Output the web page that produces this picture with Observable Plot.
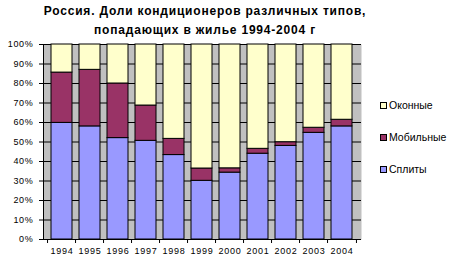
<!DOCTYPE html>
<html><head><meta charset="utf-8">
<script src="https://cdn.jsdelivr.net/npm/d3@7"></script>
<script src="https://cdn.jsdelivr.net/npm/@observablehq/plot@0.6"></script>
<style>
body{margin:0;background:#fff;font-family:"Liberation Sans",Arial,sans-serif;}
#wrap{position:relative;width:450px;height:257px;}
#title{position:absolute;left:-20px;top:2px;width:450px;text-align:center;font-weight:bold;font-size:12px;line-height:19px;letter-spacing:0.8px;color:#000;white-space:nowrap;}
#legend{position:absolute;left:380px;top:99px;font-size:10.5px;color:#000;}
.li{height:32px;display:flex;align-items:flex-start;}
.sw{width:5px;height:5px;border:1px solid #000;margin-top:3px;margin-right:2px;}
svg text{letter-spacing:0.7px;}
</style></head>
<body><div id="wrap"><div id="title">Россия. Доли кондиционеров различных типов,<br>попадающих в жилье 1994-2004 г</div><div id="legend"></div></div>
<script>
const years = ["1994","1995","1996","1997","1998","1999","2000","2001","2002","2003","2004"];
const series = ["Сплиты","Мобильные","Оконные"];
const splits  = [59.8, 58.0, 52.0, 50.6, 43.3, 30.1, 34.3, 44.0, 48.0, 54.7, 58.0];
const mobile  = [25.8, 29.0, 28.0, 18.1, 8.3, 6.3, 2.2, 2.5, 1.9, 2.6, 3.4];
const windowT = years.map((y,i)=> +(100 - splits[i] - mobile[i]).toFixed(1));
const colors = ["#9999ff","#993366","#ffffcc"];
const yTicks = [0,10,20,30,40,50,60,70,80,90,100];

const data = [];
years.forEach((y,i)=>{
  data.push({year:y, type:series[0], v:splits[i]});
  data.push({year:y, type:series[1], v:mobile[i]});
  data.push({year:y, type:series[2], v:windowT[i]});
});

const W=450,H=257,mL=43,mR=89,mT=44,mB=18;
const bw=(W-mL-mR)/years.length;

const chart = Plot.plot({
  width:W, height:H, marginLeft:mL, marginRight:mR, marginTop:mT, marginBottom:mB,
  style:{fontFamily:"Liberation Sans, Arial, sans-serif", fontSize:"9px", color:"#000", background:"transparent"},
  x:{domain:years, padding:0.24, label:null},
  y:{domain:[0,100], label:null},
  color:{domain:series, range:colors},
  marks:[
    Plot.frame({fill:"#c0c0c0", stroke:null}),
    Plot.ruleY(yTicks,{stroke:"#000", strokeWidth:1}),
    Plot.barY(data,{x:"year", y:"v", fill:"type", stroke:"#000", strokeWidth:1, order:series}),
    Plot.axisY({ticks:yTicks, tickFormat:d=>d+"%", tickSize:4, tickPadding:6, label:null, fontSize:9}),
    Plot.axisX({tickSize:0, tickPadding:8, label:null, fontSize:9}),
    Plot.axisX({tickSize:4, tickFormat:()=>"", dx:-bw/2, label:null}),
    Plot.axisX({ticks:[years[years.length-1]], tickSize:4, tickFormat:()=>"", dx:bw/2, label:null}),
    Plot.ruleY([0],{stroke:"#000"}),
    Plot.frame({anchor:"left", stroke:"#000"})
  ]
});
document.getElementById("wrap").prepend(chart);

const leg=document.getElementById("legend");
[2,1,0].forEach(i=>{
  const d=document.createElement("div"); d.className="li";
  d.innerHTML=`<span class="sw" style="background:${colors[i]}"></span><span>${series[i]}</span>`;
  leg.appendChild(d);
});
</script></body></html>
